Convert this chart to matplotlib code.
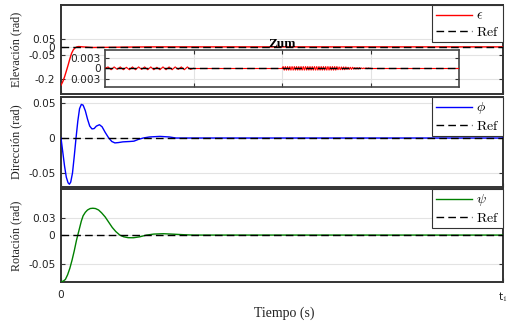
import numpy as np
import matplotlib
matplotlib.use("Agg")
import matplotlib.pyplot as plt

plt.rcParams['mathtext.fontset'] = 'cm'

# ---------------- data (time normalised: 0 .. t1 = 1) ----------------
t_elev = [0.000, 0.004, 0.008, 0.012, 0.016, 0.020, 0.024, 0.028, 0.032, 0.036,
          0.040, 0.050, 0.070, 0.100, 0.130, 0.160, 0.200, 0.300, 1.000]
elev = [-0.240, -0.218, -0.188, -0.152, -0.115, -0.075, -0.040, -0.018, -0.006, 0.000,
        0.002, 0.000, -0.004, -0.003, -0.002, -0.001, 0.000, 0.000, 0.000]

t_dir = [0.000, 0.004, 0.008, 0.012, 0.016, 0.019, 0.022, 0.026, 0.030, 0.034,
         0.038, 0.042, 0.046, 0.050, 0.055, 0.060, 0.065, 0.070, 0.075, 0.080,
         0.087, 0.093, 0.100, 0.108, 0.115, 0.122, 0.130, 0.140, 0.155, 0.165,
         0.175, 0.186, 0.200, 0.224, 0.245, 0.260, 0.300, 1.000]
direc = [0.000, -0.020, -0.040, -0.056, -0.064, -0.066, -0.063, -0.050, -0.026, 0.000,
         0.024, 0.042, 0.048, 0.047, 0.039, 0.027, 0.017, 0.013, 0.0135, 0.017,
         0.019, 0.016, 0.008, 0.000, -0.005, -0.007, -0.0065, -0.0055, -0.005, -0.0045,
         -0.002, 0.000, 0.0015, 0.0023, 0.0015, 0.000, 0.000, 0.000]

t_rot = [0.000, 0.005, 0.010, 0.015, 0.020, 0.025, 0.030, 0.035, 0.038, 0.042,
         0.046, 0.050, 0.055, 0.060, 0.066, 0.072, 0.078, 0.085, 0.092, 0.100,
         0.108, 0.116, 0.124, 0.133, 0.142, 0.152, 0.164, 0.178, 0.194, 0.210,
         0.232, 0.255, 0.280, 0.300, 1.000]
rot = [-0.080, -0.079, -0.076, -0.068, -0.057, -0.043, -0.027, -0.009, 0.000, 0.012,
       0.024, 0.033, 0.039, 0.043, 0.0455, 0.046, 0.0455, 0.043, 0.038, 0.031,
       0.022, 0.013, 0.006, 0.000, -0.003, -0.0045, -0.0046, -0.003, 0.000, 0.0017,
       0.0023, 0.0015, 0.0005, 0.000, 0.000]

# zoom inset: residual oscillations (inset x from 0 to 1)
zoom_a = [0.0, 0.0004, -0.0004, 0.0004, -0.0003, 0.0004, -0.0004, 0.0003, -0.0004, 0.0004,
          -0.0004, 0.0004, -0.0003, 0.0004, -0.0004, 0.0004, -0.0004, 0.0003, -0.0004, 0.0004,
          -0.0004, 0.0004, -0.0004, 0.0004, -0.0003, 0.0004, -0.0004, 0.0004, -0.0003, 0.0]
zoom_b = [0.0, 0.0005, -0.0005, 0.0005, -0.0005, 0.0005, -0.0005, 0.0005, -0.0005, 0.0005,
          -0.0005, 0.0005, -0.0005, 0.0005, -0.0005, 0.0005, -0.0005, 0.0005, -0.0005, 0.0005,
          -0.0005, 0.0005, -0.0005, 0.0005, -0.0005, 0.0005, -0.0005, 0.0005, -0.0005, 0.0005,
          -0.0005, 0.0005, -0.0005, 0.0005, -0.0005, 0.0005, -0.0005, 0.0005, -0.0005, 0.0005,
          -0.0005, 0.0005, -0.0005, 0.0005, -0.0005, 0.0005, -0.0005, 0.0005, -0.0005, 0.0005,
          -0.0004, 0.0004, -0.0004, 0.0004, -0.0004, 0.0004, -0.0004, 0.0004, -0.0003, 0.0003,
          -0.0003, 0.0003, -0.0003, 0.0003, -0.0002, 0.0002, -0.0002, 0.0002, -0.0002, 0.0002,
          -0.0001, 0.0001, -0.0001, 0.0001, -0.0001, 0.0001, -0.0001, 0.0001, 0.0, 0.0]

ylabels = ["Elevación (rad)", "Dirección (rad)", "Rotación (rad)"]
legend_labels = [r"$\epsilon$", r"$\phi$", r"$\psi$"]
colors = ["#ff0000", "#0000ff", "#008000"]
yticks = [[0.05, 0, -0.05, -0.2], [0.05, 0, -0.05], [0.03, 0, -0.05]]
yticklabels = [["0.05", "0", "-0.05", "-0.2"], ["0.05", "0", "-0.05"], ["0.03", "0", "-0.05"]]
ylims = [(-0.295, 0.262), (-0.0700, 0.0586), (-0.0805, 0.0790)]
xticklabels = ["0", r"t$_1$"]
zoom_yticks = [0.003, 0, -0.003]
zoom_yticklabels = ["0.003", "0", "0.003"]

# ---------------- figure ----------------
W, H = 518, 324
fig = plt.figure(figsize=(W / 100, H / 100), dpi=100)

boxes = [(5, 94), (97, 187), (189, 282)]
left, right = 61, 503
spine_col = "#333333"
tick_font = dict(family="DejaVu Sans", size=7.6)
axes = []
series = [(t_elev, elev), (t_dir, direc), (t_rot, rot)]
for i, (top, bot) in enumerate(boxes):
    ax = fig.add_axes([left / W, 1 - bot / H, (right - left) / W, (bot - top) / H])
    axes.append(ax)
    tt, yy = series[i]
    ax.plot(tt, yy, color=colors[i], lw=1.0, label=legend_labels[i], zorder=3)
    ax.axhline(0, color="black", lw=1.0, ls=(0, (5.5, 3)), label=r"$\mathrm{Ref}$", zorder=4)
    ax.set_xlim(0, 1)
    ax.set_ylim(*ylims[i])
    ax.set_yticks(yticks[i])
    ax.set_yticklabels(yticklabels[i], **tick_font)
    ax.set_xticks([0, 1])
    if i == 2:
        ax.set_xticklabels(xticklabels, **tick_font)
    else:
        ax.set_xticklabels([])
    ax.tick_params(direction="in", length=3, width=0.8, colors=spine_col,
                   labelcolor="#222222", right=True, top=False, pad=4)
    ax.grid(axis="y", color="#e3e3e3", lw=0.8)
    ax.set_axisbelow(True)
    for s in ax.spines.values():
        s.set_color(spine_col)
        s.set_linewidth(1.4)
    ax.set_ylabel(ylabels[i], family="Liberation Serif", fontsize=8.7, color="#222222")
    ax.yaxis.set_label_coords(-0.087, 0.5)
    leg = ax.legend(loc="upper right", borderaxespad=0, fancybox=False,
                    edgecolor="#333333", framealpha=1, fontsize=10,
                    handlelength=2.6, handletextpad=0.3, borderpad=0.25,
                    labelspacing=0.15)
    leg.get_frame().set_linewidth(0.8)
    leg.set_zorder(10)

axes[2].tick_params(axis="x", pad=6)

# ---------------- inset "Zum" ----------------
axz = fig.add_axes([105 / W, 1 - 87 / H, 354 / W, 37 / H])
xa = np.linspace(0.0, 0.25, len(zoom_a))
xb = np.linspace(0.5, 0.75, len(zoom_b))
axz.plot(xa, zoom_a, color="#ff0000", lw=0.8, zorder=3)
axz.plot([0.25, 0.5], [0, 0], color="#ff0000", lw=0.8, zorder=3)
axz.plot(xb, zoom_b, color="#ff0000", lw=0.8, zorder=3)
axz.plot([0.75, 1.0], [0, 0], color="#ff0000", lw=0.8, zorder=3)
axz.axhline(0, color="black", lw=1.0, ls=(0, (5.5, 3)), zorder=4)
axz.set_xlim(0, 1)
axz.set_ylim(-0.0053, 0.0052)
axz.set_xticks([0.25, 0.5, 0.75])
axz.set_xticklabels([])
axz.set_yticks(zoom_yticks)
axz.set_yticklabels(zoom_yticklabels, **tick_font)
axz.tick_params(direction="in", length=3, width=0.8, colors=spine_col,
                labelcolor="#222222", right=True, top=True, pad=3)
axz.grid(True, color="#e3e3e3", lw=0.8)
axz.set_axisbelow(True)
for s in axz.spines.values():
    s.set_color("#444444")
    s.set_linewidth(1.2)
axz.set_title("Zum", family="Liberation Serif", fontweight="bold", fontsize=9.5, pad=2)

fig.text(284 / W, 1 - 313 / H, "Tiempo (s)", family="Liberation Serif", fontsize=10,
         ha="center", va="center", color="#222222")

fig.savefig("out.png", dpi=100)
